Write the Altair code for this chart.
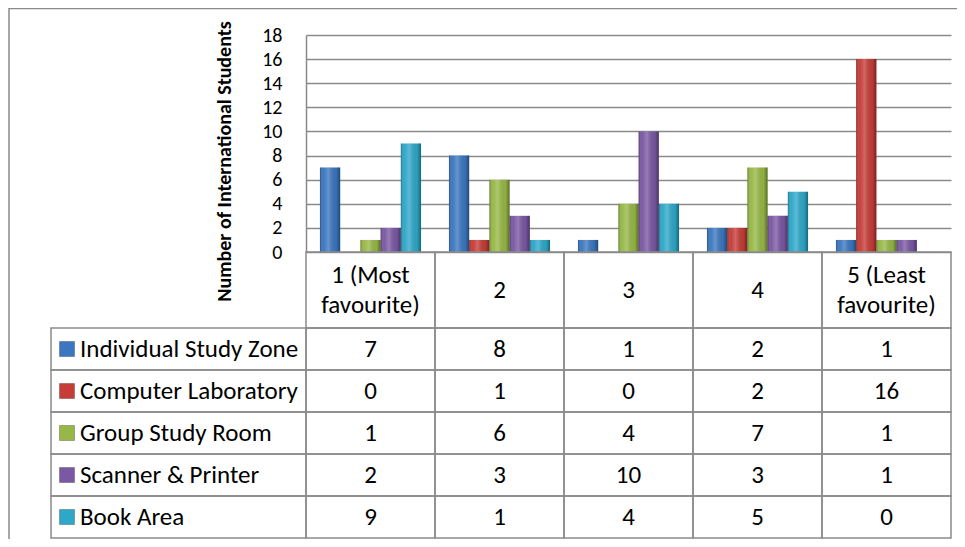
import altair as alt
import pandas as pd

# ---------------- data ----------------
categories = ["1 (Most\nfavourite)", "2", "3", "4", "5 (Least\nfavourite)"]
series = ["Individual Study Zone", "Computer Laboratory", "Group Study Room",
          "Scanner & Printer", "Book Area"]
individual_study_zone = [7, 8, 1, 2, 1]
computer_laboratory = [0, 1, 0, 2, 16]
group_study_room = [1, 6, 4, 7, 1]
scanner_printer = [2, 3, 10, 3, 1]
book_area = [9, 1, 4, 5, 0]
y_ticks = [0, 2, 4, 6, 8, 10, 12, 14, 16, 18]
y_title = "Number of International Students"
colors = ["#3b77c0", "#c63c37", "#97b846", "#7a58a3", "#2ea8c9"]

values_by_series = [individual_study_zone, computer_laboratory, group_study_room,
                    scanner_printer, book_area]
long_df = pd.DataFrame(
    [{"category": c, "series": s, "value": v}
     for s, vals in zip(series, values_by_series)
     for c, v in zip(categories, vals)]
)
cat_df = pd.DataFrame({"category": categories})
ser_df = pd.DataFrame({"series": series})
frame_df = pd.DataFrame({"frame": ["chart area"]})

# ---------------- layout / style ----------------
FONT = "Carlito, Lato, sans-serif"
LINE = "#8a8a8a"
PW, PH = 645, 217                 # plot area
HEAD_Y = [217, 293]               # header row of the data table
ROWS_Y = [293, 503]               # series rows of the data table
LEG_X = [-255, 0]                 # legend-key column
LEG_HALF = (LEG_X[1] - LEG_X[0]) / 2
TXT = 25


def cat_x(**kw):
    return alt.X("category:N", sort=categories,
                 scale=alt.Scale(type="band", domain=categories, range=[0, PW],
                                 paddingInner=0, paddingOuter=0),
                 axis=None, **kw)


def ser_color():
    return alt.Color("series:N", scale=alt.Scale(domain=series, range=colors), legend=None)


def xoff():
    return alt.XOffset("series:N", sort=series,
                       scale=alt.Scale(domain=series, paddingInner=0, paddingOuter=0.69))


def rows_y():
    return alt.Y("series:N", sort=series,
                 scale=alt.Scale(type="band", domain=series, range=ROWS_Y,
                                 paddingInner=0, paddingOuter=0),
                 axis=None)


def leg_x():
    return alt.X("col:N", scale=alt.Scale(type="band", domain=["legend"], range=LEG_X,
                                          paddingInner=0, paddingOuter=0), axis=None)


y_scale_args = dict(domain=[0, 18], range=[PH, 0])

# ---------------- bars (with the value axis) ----------------
y_axis = alt.Axis(orient="left", values=y_ticks, grid=True, gridColor=LINE, gridWidth=1.5,
                  ticks=False, domain=True, domainColor=LINE, domainWidth=1.5,
                  labelFont=FONT, labelFontSize=20, labelPadding=24, labelColor="black",
                  labelOverlap=False,
                  title=y_title, titleFont=FONT, titleFontSize=20, titleFontWeight="bold",
                  titleColor="black", titleX=-76, titleY=126, titleAngle=-90,
                  titleBaseline="alphabetic", titleAlign="center")

bars = alt.Chart(long_df).mark_bar().encode(
    x=cat_x(),
    xOffset=xoff(),
    y=alt.Y("value:Q", scale=alt.Scale(**y_scale_args), axis=y_axis),
    color=ser_color(),
)
shade_gradient = {
    "gradient": "linear", "x1": 0, "y1": 0, "x2": 1, "y2": 0,
    "stops": [
        {"offset": 0.0, "color": "rgba(0,0,0,0.30)"},
        {"offset": 0.18, "color": "rgba(255,255,255,0.02)"},
        {"offset": 0.42, "color": "rgba(255,255,255,0.22)"},
        {"offset": 0.80, "color": "rgba(0,0,0,0.05)"},
        {"offset": 1.0, "color": "rgba(0,0,0,0.40)"},
    ],
}
shade = alt.Chart(long_df).mark_bar(fill=shade_gradient).encode(
    x=cat_x(),
    xOffset=xoff(),
    y=alt.Y("value:Q", scale=alt.Scale(**y_scale_args), axis=None),
)

# ---------------- header row ----------------
head_cells = alt.Chart(cat_df).transform_calculate(row="'header'").mark_rect(
    fillOpacity=0, stroke=LINE, strokeWidth=1.5).encode(
    x=cat_x(),
    y=alt.Y("row:N", scale=alt.Scale(type="band", domain=["header"], range=HEAD_Y,
                                     paddingInner=0, paddingOuter=0), axis=None))
head_mid = (HEAD_Y[0] + HEAD_Y[1]) / 2
head_text = alt.Chart(cat_df).transform_calculate(
    lines="length(split(datum.category, '\\n'))"
).transform_calculate(
    line_pos="-(datum.lines - 1) / 2"
).mark_text(font=FONT, fontSize=TXT, lineBreak="\n", lineHeight=30, color="black",
            baseline="middle").encode(
    x=cat_x(),
    y=alt.Y("line_pos:Q", scale=alt.Scale(domain=[-1, 1], range=[head_mid - 30, head_mid + 30]),
            axis=None),
    text="category:N")

# ---------------- data table ----------------
tab_cells = alt.Chart(long_df).mark_rect(fillOpacity=0, stroke=LINE, strokeWidth=1.5).encode(
    x=cat_x(), y=rows_y())
tab_text = alt.Chart(long_df).mark_text(font=FONT, fontSize=TXT, color="black").encode(
    x=cat_x(), y=rows_y(), text="value:Q")

# ---------------- legend keys column ----------------
leg_base = alt.Chart(ser_df).transform_calculate(col="'legend'")
leg_cells = leg_base.mark_rect(fillOpacity=0, stroke=LINE, strokeWidth=1.5).encode(
    x=leg_x(), y=rows_y())
leg_keys = leg_base.mark_square(size=225, opacity=1, xOffset=16 - LEG_HALF,
                                stroke="#00000040", strokeWidth=1).encode(
    x=leg_x(), y=rows_y(), color=ser_color())
leg_text = leg_base.mark_text(font=FONT, fontSize=TXT, align="left", dx=29 - LEG_HALF,
                              color="black").encode(
    x=leg_x(), y=rows_y(), text="series:N")

# ---------------- outer chart-area border ----------------
frame = alt.Chart(frame_df).mark_rect(fillOpacity=0, stroke=LINE, strokeWidth=1.5).encode(
    x=alt.X("frame:N", scale=alt.Scale(type="band", domain=["chart area"], range=[-297, 2000],
                                       paddingInner=0, paddingOuter=0), axis=None),
    y=alt.Y("frame:N", scale=alt.Scale(type="band", domain=["chart area"], range=[-26.5, 2000],
                                       paddingInner=0, paddingOuter=0), axis=None),
)

chart = alt.layer(
    bars, shade, frame, head_cells, head_text, tab_cells, tab_text,
    leg_cells, leg_keys, leg_text
).resolve_scale(
    x="independent", y="independent"
).properties(
    width=PW, height=PH, autosize=alt.AutoSizeParams(type="none"),
    padding={"left": 298, "top": 27, "right": 6, "bottom": 287},
    background="white"
).configure_view(stroke=None)

chart.save("out.html", embed_options={"renderer": "svg", "actions": False})
